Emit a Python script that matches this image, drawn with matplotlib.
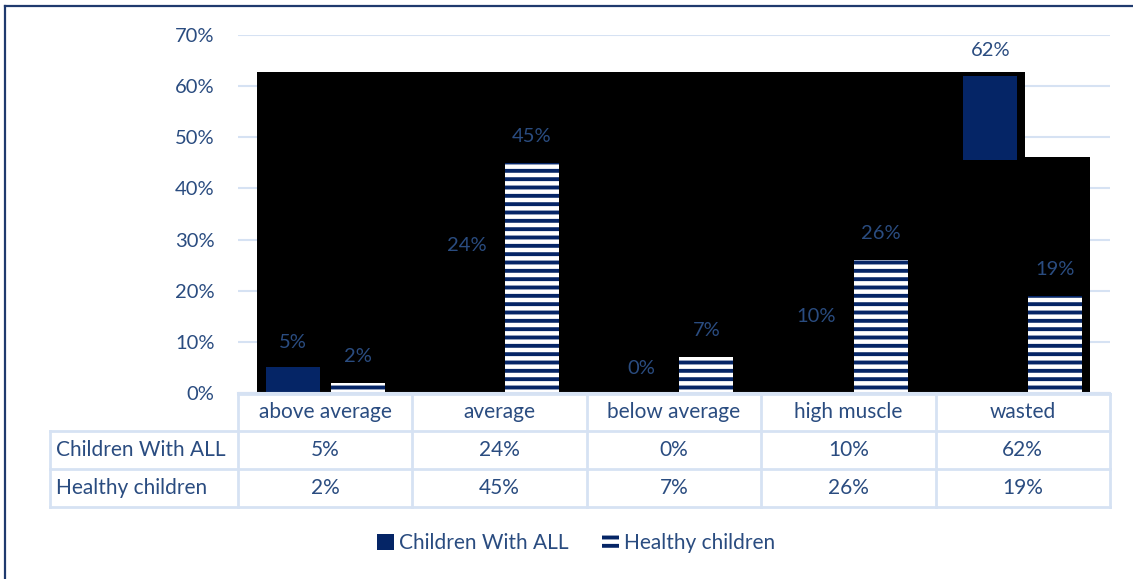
import numpy as np
import matplotlib.pyplot as plt
from matplotlib.patches import Patch, Polygon, Rectangle
from matplotlib.lines import Line2D
import matplotlib.transforms as mtransforms

plt.rcParams['font.family'] = ['Lato', 'DejaVu Sans']
plt.rcParams['hatch.linewidth'] = 2.8

categories = ["above average", "average", "below average", "high muscle", "wasted"]
all_kids = [5, 24, 0, 10, 62]
healthy = [2, 45, 7, 26, 19]
series_names = ["Children With ALL", "Healthy children"]
yticks = [0, 10, 20, 30, 40, 50, 60, 70]

navy = '#052566'
txt = '#2A4C80'
light = '#D6E2F3'
fs = 15

fig = plt.figure(figsize=(11.33, 5.79), dpi=100)
ax = fig.add_axes([238/1133, 1-393/579, (1110-238)/1133, 358/579])

x = np.arange(len(categories))
w = 0.31
off = 0.186

# black rendering blocks seen in the source image
blk = Polygon([(-0.39, -0.6), (-0.39, 62.7), (4.011, 62.7), (4.011, 46.1),
               (4.384, 46.1), (4.384, -0.6)], closed=True, facecolor='black',
              edgecolor='none', zorder=1)
ax.add_patch(blk)

ax.bar(x - off, all_kids, w, color=navy, zorder=2)
ax.add_patch(Rectangle((0.5, -0.6), 3.511, 46.1, facecolor='black',
                       edgecolor='none', zorder=2.5))
ax.bar(x + off, healthy, w, facecolor='white', edgecolor=navy, hatch='--',
       linewidth=0, zorder=3)

for xi, v in zip(x - off, all_kids):
    ax.annotate(f"{v}%", (xi, v), xytext=(0, 18), textcoords='offset points',
                ha='center', va='center', fontsize=14.5, color=txt, zorder=4)
for xi, v in zip(x + off, healthy):
    ax.annotate(f"{v}%", (xi, v), xytext=(0, 19), textcoords='offset points',
                ha='center', va='center', fontsize=14.5, color=txt, zorder=4)

ax.set_xlim(-0.5, 4.5)
ax.set_ylim(0, 70)
ax.set_yticks(yticks)
ax.set_yticklabels([f"{t}%" for t in yticks], fontsize=14.5, color=txt)
ax.tick_params(axis='y', length=0, pad=17)
ax.set_xticks([])
ax.grid(axis='y', color=light, linewidth=1.5)
ax.set_axisbelow(True)
for s in ['top', 'right', 'left']:
    ax.spines[s].set_visible(False)
ax.spines['bottom'].set_color(light)
ax.spines['bottom'].set_linewidth(1.5)
ax.spines['bottom'].set_zorder(5)

# data table under the plot
tr = mtransforms.blended_transform_factory(ax.transData, ax.transAxes)
def ypx(p):
    return (393 - p) / 358.0
left_lab = -1.576
edges = np.arange(-0.5, 5.0, 1.0)
rows_y = [ypx(394), ypx(431), ypx(469), ypx(507)]
lkw = dict(color=light, linewidth=2, transform=tr, clip_on=False, zorder=1)
ax.add_line(Line2D([-0.5, 4.5], [rows_y[0]] * 2, **lkw))
for yy in rows_y[1:]:
    ax.add_line(Line2D([left_lab, 4.5], [yy] * 2, **lkw))
ax.add_line(Line2D([left_lab, left_lab], [rows_y[1], rows_y[3]], **lkw))
for e in edges:
    ax.add_line(Line2D([e, e], [rows_y[0], rows_y[3]], **lkw))

tkw = dict(transform=tr, fontsize=fs, color=txt, va='center', clip_on=False)
for i, c in enumerate(categories):
    ax.text(i, (rows_y[0] + rows_y[1]) / 2, c, ha='center', **tkw)
    ax.text(i, (rows_y[1] + rows_y[2]) / 2, f"{all_kids[i]}%", ha='center', **tkw)
    ax.text(i, (rows_y[2] + rows_y[3]) / 2, f"{healthy[i]}%", ha='center', **tkw)
ax.text(left_lab + 0.035, (rows_y[1] + rows_y[2]) / 2, series_names[0], ha='left', **tkw)
ax.text(left_lab + 0.035, (rows_y[2] + rows_y[3]) / 2, series_names[1], ha='left', **tkw)

handles = [Patch(facecolor=navy, edgecolor=navy, linewidth=0),
           Patch(facecolor='white', edgecolor=navy, hatch='--', linewidth=0)]
fig.legend(handles, series_names, loc='center', bbox_to_anchor=(576/1133, 1-543/579),
           ncol=2, frameon=False, fontsize=fs, labelcolor=txt,
           handlelength=0.8, handleheight=0.8, handletextpad=0.25, columnspacing=1.6)

# outer frame (top and left edges visible)
fig.add_artist(Line2D([5/1133, 1], [1-6/579, 1-6/579], color='#1F3A6E', linewidth=1.6))
fig.add_artist(Line2D([5/1133, 5/1133], [0, 1-6/579], color='#1F3A6E', linewidth=1.6))

fig.savefig("out.png", dpi=100)
